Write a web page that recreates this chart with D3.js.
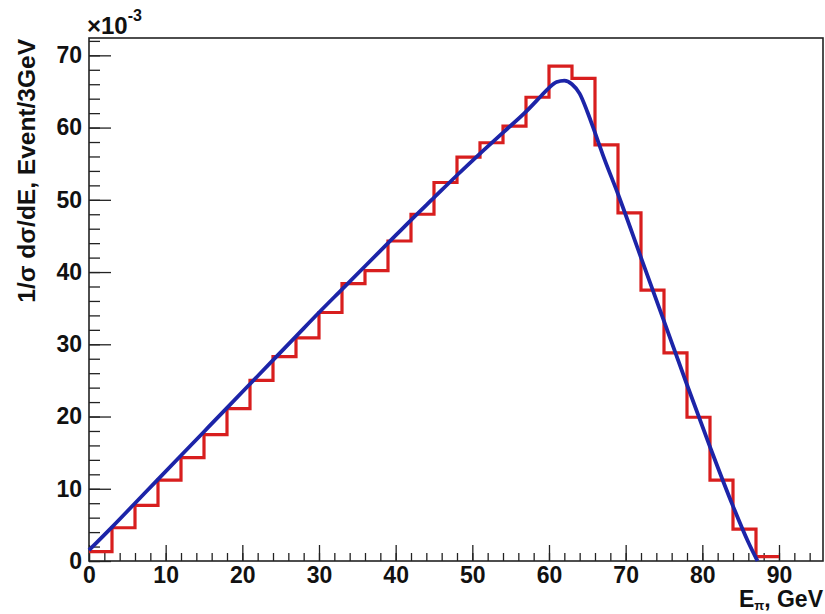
<!DOCTYPE html>
<html>
<head>
<meta charset="utf-8">
<script src="https://cdn.jsdelivr.net/npm/d3@7"></script>
<style>
  html, body { margin: 0; padding: 0; background: #fff; }
  svg { display: block; }
  text { font-family: "Liberation Sans", Arial, Helvetica, sans-serif; font-weight: bold; fill: #111; }
</style>
</head>
<body>
<svg id="chart" width="825" height="614"></svg>
<script>
// Histogram: 3 GeV bins from 0 to 90 GeV, values in units of 1e-3
const binEdges = [0, 3, 6, 9, 12, 15, 18, 21, 24, 27, 30, 33, 36, 39, 42, 45, 48, 51, 54, 57, 60, 63, 66, 69, 72, 75, 78, 81, 84, 87, 90];
const binValues = [1.3, 4.6, 7.7, 11.2, 14.3, 17.5, 21.1, 25.0, 28.3, 30.9,
                   34.4, 38.4, 40.2, 44.3, 48.0, 52.4, 55.9, 57.9, 60.2, 64.2,
                   68.5, 66.8, 57.6, 48.2, 37.5, 28.8, 19.9, 11.2, 4.4, 0.6];

// Theoretical spectrum (blue curve): energy in GeV and density in units of 1e-3
const curveE = [0, 3, 6, 9, 12, 15, 18, 21, 24, 27, 30, 33, 36, 39, 42, 45, 48, 51, 54, 57,
                59, 60, 61, 62, 63, 64, 65, 66, 67, 69, 72, 75, 78, 81, 84, 86, 87.2];
const curveV = [1.5, 4.7, 8.0, 11.3, 14.6, 17.9, 21.2, 24.5, 27.8, 31.1, 34.4, 37.6, 40.8, 44.0, 47.2, 50.3, 53.4, 56.4, 59.3, 62.2,
                64.4, 65.5, 66.3, 66.5, 66.0, 64.7, 62.2, 59.3, 56.3, 50.8, 42.0, 33.2, 24.4, 15.8, 7.6, 2.6, 0.0];

const xTicks = [0, 10, 20, 30, 40, 50, 60, 70, 80, 90];
const yTicks = [0, 10, 20, 30, 40, 50, 60, 70];
const xMinorTicks = d3.range(0, 96, 2);
const yMinorTicks = d3.range(0, 73, 2);

const frame = { left: 89, right: 823, top: 38, bottom: 561 };

const svg = d3.select("#chart");

const x = d3.scaleLinear().domain([0, 95.74]).range([frame.left, frame.right]);
const y = d3.scaleLinear().domain([0, 72.4]).range([frame.bottom, frame.top]);

// Minor ticks
svg.append("g")
  .attr("transform", `translate(0,${frame.bottom})`)
  .call(d3.axisBottom(x).tickValues(xMinorTicks).tickSize(-8).tickFormat(""))
  .call(g => g.select(".domain").remove())
  .call(g => g.selectAll("line").attr("stroke", "#222").attr("stroke-width", 1.3));

svg.append("g")
  .attr("transform", `translate(${frame.left},0)`)
  .call(d3.axisLeft(y).tickValues(yMinorTicks).tickSize(-11).tickFormat(""))
  .call(g => g.select(".domain").remove())
  .call(g => g.selectAll("line").attr("stroke", "#222").attr("stroke-width", 1.3));

// Major ticks with labels
svg.append("g")
  .attr("transform", `translate(0,${frame.bottom})`)
  .call(d3.axisBottom(x).tickValues(xTicks).tickSize(-16).tickPadding(6).tickFormat(d3.format("d")))
  .call(g => g.select(".domain").remove())
  .call(g => g.selectAll("line").attr("stroke", "#222").attr("stroke-width", 1.3))
  .call(g => g.selectAll("text").attr("font-size", 23).attr("font-family", null).attr("fill", "#111"));

svg.append("g")
  .attr("transform", `translate(${frame.left},0)`)
  .call(d3.axisLeft(y).tickValues(yTicks).tickSize(-22).tickPadding(7).tickFormat(d3.format("d")))
  .call(g => g.select(".domain").remove())
  .call(g => g.selectAll("line").attr("stroke", "#222").attr("stroke-width", 1.3))
  .call(g => g.selectAll("text").attr("font-size", 23).attr("font-family", null).attr("fill", "#111"));

// Plot frame
svg.append("rect")
  .attr("x", frame.left).attr("y", frame.top)
  .attr("width", frame.right - frame.left).attr("height", frame.bottom - frame.top)
  .attr("fill", "none").attr("stroke", "#222").attr("stroke-width", 1.6);

// Histogram outline
const histPts = [];
binValues.forEach((v, i) => {
  histPts.push([binEdges[i], v]);
  histPts.push([binEdges[i + 1], v]);
});
svg.append("path")
  .datum(histPts)
  .attr("fill", "none")
  .attr("stroke", "#d81e1e")
  .attr("stroke-width", 3.2)
  .attr("stroke-linejoin", "miter")
  .attr("d", d3.line().x(d => x(d[0])).y(d => y(d[1])));

// Theoretical curve
svg.append("path")
  .datum(curveE.map((e, i) => [e, curveV[i]]))
  .attr("fill", "none")
  .attr("stroke", "#1c24a8")
  .attr("stroke-width", 3.8)
  .attr("d", d3.line().x(d => x(d[0])).y(d => y(d[1])).curve(d3.curveMonotoneX));

// Exponent label
const expo = svg.append("text").attr("x", 87).attr("y", 34).style("font-size", "24px");
expo.append("tspan").text("\u00d710");
expo.append("tspan").style("font-size", "16px").attr("dy", -13).text("-3");

// Axis titles
const xTitle = svg.append("text")
  .attr("x", 823).attr("y", 607)
  .attr("text-anchor", "end")
  .attr("font-size", 23);
xTitle.append("tspan").text("E");
xTitle.append("tspan").attr("font-size", 13).attr("dy", 3).text("\u03c0");
xTitle.append("tspan").attr("dy", -3).text(", GeV");

svg.append("text")
  .attr("transform", "translate(35,39) rotate(-90)")
  .attr("text-anchor", "end")
  .attr("font-size", 24.5)
  .text("1/\u03c3 d\u03c3/dE, Event/3GeV");
</script>
</body>
</html>
